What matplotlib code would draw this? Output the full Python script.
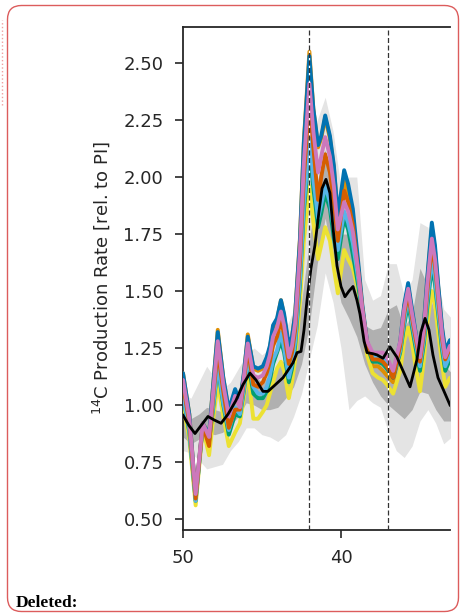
import numpy as np
import matplotlib
matplotlib.use("Agg")
import matplotlib.pyplot as plt
from matplotlib.patches import FancyBboxPatch
from matplotlib.lines import Line2D
from matplotlib.transforms import IdentityTransform

plt.rcParams['font.family'] = ['DejaVu Sans']

# ages [ka] for the coloured model runs
age = [50.0, 49.6, 49.2, 48.75, 48.35, 48.1, 47.8, 47.45, 47.1, 46.7,
       46.4, 46.15, 45.9, 45.55, 45.25, 44.95, 44.7, 44.5, 44.3, 44.05,
       43.8, 43.6, 43.3, 43.1, 42.9, 42.6, 42.35, 42.0, 41.75, 41.45,
       41.25, 41.0, 40.7, 40.45, 40.2, 39.8, 39.55, 39.25, 38.9, 38.65,
       38.35, 38.0, 37.65, 37.35, 37.1, 36.7, 36.25, 36.0, 35.75, 35.5,
       35.3, 35.0, 34.75, 34.55, 34.25, 34.05, 33.85, 33.6, 33.4, 33.1]

run_blue = [1.14, 0.96, 0.60, 0.92, 0.87, 1.08, 1.32, 1.12, 0.98, 1.07,
            1.01, 1.14, 1.30, 1.17, 1.16, 1.17, 1.21, 1.26, 1.35, 1.38,
            1.46, 1.40, 1.26, 1.30, 1.40, 1.72, 2.15, 2.53, 2.30, 2.14,
            2.18, 2.27, 2.18, 2.05, 1.83, 2.03, 1.97, 1.86, 1.62, 1.44,
            1.28, 1.20, 1.21, 1.20, 1.18, 1.12, 1.28, 1.44, 1.535, 1.42,
            1.33, 1.21, 1.36, 1.55, 1.80, 1.70, 1.53, 1.34, 1.24, 1.285]
run_orange = [1.14, 0.96, 0.60, 0.92, 0.87, 1.08, 1.33, 1.12, 0.97, 1.06,
              1.00, 1.13, 1.31, 1.16, 1.15, 1.16, 1.20, 1.25, 1.34, 1.37,
              1.46, 1.39, 1.25, 1.30, 1.40, 1.73, 2.16, 2.55, 2.30, 2.13,
              2.17, 2.26, 2.17, 2.04, 1.83, 1.98, 1.93, 1.82, 1.60, 1.43,
              1.27, 1.17, 1.17, 1.15, 1.13, 1.10, 1.27, 1.43, 1.52, 1.41,
              1.32, 1.20, 1.35, 1.54, 1.78, 1.68, 1.52, 1.33, 1.23, 1.27]
run_pink = [1.11, 0.94, 0.61, 0.92, 0.86, 1.05, 1.28, 1.09, 0.95, 1.04,
            0.99, 1.12, 1.27, 1.13, 1.12, 1.13, 1.17, 1.22, 1.30, 1.34,
            1.41, 1.35, 1.21, 1.26, 1.36, 1.67, 2.06, 2.41, 2.20, 2.02,
            2.09, 2.175, 2.09, 1.96, 1.77, 1.89, 1.85, 1.76, 1.58, 1.42,
            1.28, 1.23, 1.23, 1.23, 1.21, 1.15, 1.28, 1.42, 1.51, 1.40,
            1.32, 1.21, 1.34, 1.52, 1.73, 1.64, 1.49, 1.31, 1.21, 1.26]
run_red = [1.09, 0.92, 0.59, 0.91, 0.82, 1.03, 1.24, 1.06, 0.90, 0.98,
           0.98, 1.10, 1.25, 1.09, 1.08, 1.10, 1.14, 1.19, 1.26, 1.30,
           1.37, 1.31, 1.18, 1.23, 1.33, 1.63, 2.00, 2.33, 2.13, 1.90,
           2.00, 2.10, 2.02, 1.89, 1.72, 1.94, 1.89, 1.79, 1.58, 1.42,
           1.27, 1.20, 1.20, 1.19, 1.17, 1.12, 1.26, 1.40, 1.49, 1.38,
           1.30, 1.19, 1.32, 1.49, 1.70, 1.61, 1.47, 1.29, 1.20, 1.25]
run_sky = [1.05, 0.89, 0.58, 0.91, 0.85, 0.99, 1.18, 1.01, 0.89, 0.99,
           0.96, 1.07, 1.21, 1.08, 1.05, 1.05, 1.08, 1.13, 1.20, 1.24,
           1.32, 1.25, 1.12, 1.18, 1.28, 1.55, 1.88, 2.17, 1.99, 1.82,
           1.88, 1.96, 1.89, 1.77, 1.68, 1.85, 1.80, 1.71, 1.55, 1.41,
           1.27, 1.21, 1.21, 1.20, 1.18, 1.13, 1.24, 1.37, 1.48, 1.36,
           1.28, 1.17, 1.29, 1.45, 1.64, 1.56, 1.42, 1.26, 1.17, 1.22]
run_green = [1.04, 0.88, 0.58, 0.91, 0.84, 0.98, 1.17, 1.00, 0.87, 0.96,
             0.95, 1.06, 1.20, 1.05, 1.03, 1.03, 1.06, 1.11, 1.18, 1.23,
             1.28, 1.23, 1.10, 1.16, 1.26, 1.53, 1.85, 2.12, 1.95, 1.78,
             1.84, 1.93, 1.86, 1.73, 1.64, 1.82, 1.77, 1.66, 1.52, 1.40,
             1.26, 1.19, 1.19, 1.18, 1.16, 1.12, 1.23, 1.35, 1.45, 1.34,
             1.26, 1.15, 1.27, 1.42, 1.61, 1.53, 1.40, 1.24, 1.15, 1.20]
run_yellow = [1.00, 0.85, 0.56, 0.90, 0.78, 0.93, 1.10, 0.95, 0.82, 0.88,
              0.92, 1.03, 1.15, 0.94, 0.94, 0.97, 1.00, 1.05, 1.10, 1.16,
              1.19, 1.15, 1.03, 1.10, 1.20, 1.45, 1.72, 1.96, 1.80, 1.64,
              1.70, 1.78, 1.72, 1.60, 1.49, 1.68, 1.64, 1.60, 1.50, 1.38,
              1.22, 1.14, 1.12, 1.11, 1.09, 1.05, 1.15, 1.28, 1.34, 1.27,
              1.18, 1.06, 1.20, 1.35, 1.50, 1.44, 1.32, 1.18, 1.08, 1.12]

# reconstruction (black) and its uncertainty bands
obs_age = [50.0, 49.62, 49.24, 48.86, 48.42, 48.04, 47.59, 47.15, 46.65, 46.2,
           45.76, 45.38, 44.94, 44.62, 44.3, 43.67, 43.04, 42.78, 42.53, 42.34,
           42.15, 41.9, 41.65, 41.39, 41.2, 40.95, 40.7, 40.51, 40.25, 40.0,
           39.75, 39.49, 39.24, 38.99, 38.8, 38.54, 38.35, 37.97, 37.72, 37.34,
           36.9, 36.46, 36.01, 35.63, 35.19, 34.94, 34.68, 34.43, 34.18, 33.86,
           33.54, 33.1]
obs = [0.955, 0.91, 0.875, 0.91, 0.95, 0.935, 0.92, 0.96, 1.02, 1.09,
       1.14, 1.11, 1.06, 1.06, 1.08, 1.12, 1.185, 1.23, 1.235, 1.33,
       1.46, 1.60, 1.70, 1.85, 1.95, 1.99, 1.93, 1.78, 1.61, 1.52,
       1.475, 1.50, 1.52, 1.46, 1.40, 1.28, 1.23, 1.225, 1.22, 1.205,
       1.255, 1.21, 1.14, 1.08, 1.20, 1.32, 1.38, 1.33, 1.22, 1.12,
       1.07, 1.00]

band_age = [50.0, 49.5, 49.0, 48.5, 48.0, 47.5, 47.0, 46.5, 46.0, 45.5,
            45.0, 44.5, 44.0, 43.5, 43.0, 42.5, 42.0, 41.5, 41.0, 40.5,
            40.0, 39.5, 39.0, 38.5, 38.0, 37.5, 37.0, 36.5, 36.0, 35.5,
            35.0, 34.5, 34.0, 33.5, 33.0]
light_hi = [1.05, 1.03, 1.10, 1.17, 1.12, 1.07, 1.10, 1.16, 1.22, 1.25,
            1.22, 1.25, 1.30, 1.33, 1.42, 1.75, 2.20, 2.25, 2.35, 2.20,
            1.95, 2.00, 2.00, 1.55, 1.46, 1.48, 1.62, 1.62, 1.48, 1.55,
            1.80, 1.78, 1.60, 1.42, 1.38]
dark_hi = [0.97, 0.94, 0.96, 0.99, 0.98, 0.97, 1.02, 1.07, 1.14, 1.13,
           1.10, 1.13, 1.17, 1.20, 1.25, 1.45, 1.72, 1.98, 2.12, 1.95,
           1.75, 1.75, 1.65, 1.35, 1.33, 1.34, 1.42, 1.44, 1.34, 1.40,
           1.60, 1.52, 1.38, 1.18, 1.14]
dark_lo = [0.86, 0.83, 0.85, 0.88, 0.87, 0.88, 0.91, 0.95, 1.01, 1.00,
           0.98, 0.98, 0.99, 1.03, 1.08, 1.18, 1.35, 1.62, 1.82, 1.62,
           1.45, 1.38, 1.30, 1.18, 1.10, 1.04, 1.00, 0.97, 0.94, 0.98,
           1.06, 1.05, 0.98, 0.93, 0.93]
light_lo = [0.80, 0.79, 0.76, 0.72, 0.73, 0.74, 0.80, 0.84, 0.90, 0.90,
            0.87, 0.86, 0.84, 0.87, 0.95, 1.05, 1.20, 1.35, 1.58, 1.45,
            1.25, 0.98, 1.02, 1.04, 1.01, 0.99, 0.88, 0.80, 0.77, 0.82,
            0.93, 0.98, 0.92, 0.83, 0.86]

event_ages = [42.0, 37.0]
yticks = [0.50, 0.75, 1.00, 1.25, 1.50, 1.75, 2.00, 2.25, 2.50]
xticks = [50, 40]

W, H = 462, 613
fig = plt.figure(figsize=(W / 100, H / 100), dpi=100)
ax = fig.add_axes([183 / W, 83 / H, 267 / W, 503 / H])

ax.fill_between(band_age, light_lo, light_hi, color='#e4e4e4', lw=0, zorder=1)
ax.fill_between(band_age, dark_lo, dark_hi, color='#b0b0b0', lw=0, zorder=2)

runs = [(run_orange, '#DE8F05'), (run_blue, '#0173B2'), (run_yellow, '#ECE133'),
        (run_green, '#029E73'), (run_sky, '#56B4E9'), (run_red, '#D55E00'),
        (run_pink, '#CC78BC')]
for vals, c in runs:
    ax.plot(age, vals, color=c, lw=2.8, solid_joinstyle='round',
            solid_capstyle='round', zorder=3)
ax.plot(obs_age, obs, color='black', lw=2.0, solid_joinstyle='round', zorder=4)

for a in event_ages:
    ax.axvline(a, color='#333333', lw=0.9, ls=(0, (4, 2)), gapcolor='white', zorder=5)

ax.set_xlim(50, 33.1)
ax.set_ylim(0.452, 2.658)
ax.set_xticks(xticks)
ax.set_yticks(yticks)
ax.set_yticklabels(['%.2f' % v for v in yticks])
ax.spines['right'].set_visible(False)
for s in ['left', 'top', 'bottom']:
    ax.spines[s].set_color('#262626')
    ax.spines[s].set_linewidth(1.3)
ax.tick_params(direction='out', length=6, width=1.2, pad=8, labelsize=13,
               colors='#262626')
ax.set_ylabel('$^{14}$C Production Rate [rel. to PI]', fontsize=13,
              color='#262626', labelpad=8)

# document frame around the figure crop
frame = FancyBboxPatch((7.5, 1.5), 451, 606,
                       boxstyle='round,pad=0,rounding_size=14',
                       transform=IdentityTransform(), facecolor='none',
                       edgecolor='#dc5c5c', lw=1.0)
fig.patches.append(frame)
fig.lines.append(Line2D([1.5, 1.5], [508, 593], transform=IdentityTransform(),
                        color='#f0a0a0', lw=1.0, ls=':'))
fig.text(16 / W, 6 / H, 'Deleted:', fontsize=12.5, fontweight='bold',
         family='Liberation Serif', color='black', ha='left', va='baseline')

fig.savefig('out.png', dpi=100)
